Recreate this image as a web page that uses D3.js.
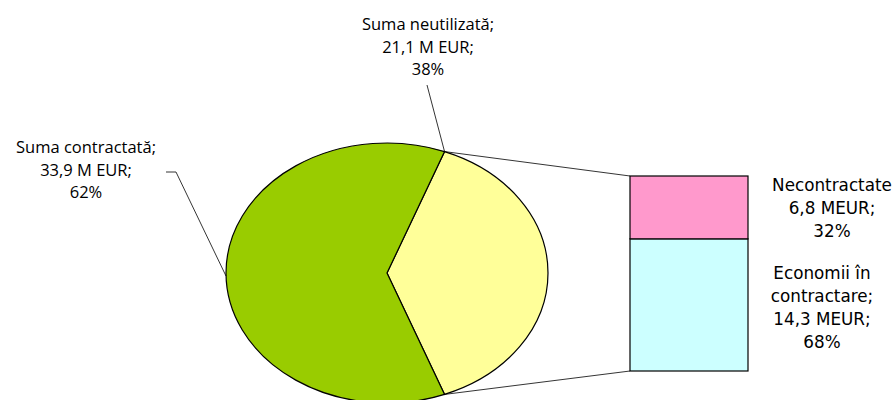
<!DOCTYPE html>
<meta charset="utf-8">
<script src="https://d3js.org/d3.v7.min.js"></script>
<style>
  body { margin: 0; background: #fff; }
</style>
<body>
<div id="my_visual"></div>
<script>

// pie: total fund split
var pieNames  = ["Suma neutilizată", "Suma contractată"];
var pieValues = [21.1, 33.9];
var pieTexts  = ["21,1 M EUR;", "33,9 M EUR;"];
var piePcts   = ["38%", "62%"];
var pieColors = ["#FFFF99", "#99CC00"];

// bar: breakdown of the unused part (bottom to top)
var barNames  = ["Economii în contractare", "Necontractate"];
var barValues = [14.3, 6.8];
var barTexts  = ["14,3 MEUR;", "6,8 MEUR;"];
var barPcts   = ["68%", "32%"];
var barColors = ["#CCFFFF", "#FF99CC"];

var width = 893, height = 400;

var svg = d3.select("#my_visual")
  .append("svg")
    .attr("width", width)
    .attr("height", height);

// the pie is an ellipse: draw a circle then squash it
var cx = 387, cy = 273, rx = 161, ry = 130;

var total = d3.sum(pieValues);
var half = pieValues[0] / total * Math.PI;   // half of the yellow slice
var pie = d3.pie().sort(null).startAngle(Math.PI / 2 - half).endAngle(Math.PI / 2 - half + 2 * Math.PI);
var arcs = pie(pieValues);
var arc = d3.arc().innerRadius(0).outerRadius(rx);

svg.append("g")
    .attr("transform", "translate(" + cx + "," + cy + ") scale(1," + (ry / rx) + ")")
  .selectAll("path")
  .data(arcs)
  .enter()
  .append("path")
    .attr("d", arc)
    .attr("fill", function(d, i) { return pieColors[i]; })
    .attr("stroke", "#000")
    .attr("stroke-width", 1.2)
    .attr("vector-effect", "non-scaling-stroke");

function onEllipse(a) {
  return [cx + rx * Math.sin(a), cy - ry * Math.cos(a)];
}

// stacked bar
var barX = d3.scaleBand().domain(["bar"]).range([630, 748]).padding(0);
var barY = d3.scaleLinear().domain([0, d3.sum(barValues)]).range([371, 176]);
var stacked = [];
var acc = 0;
barValues.forEach(function(v, i) {
  stacked.push({y0: acc, y1: acc + v, i: i});
  acc += v;
});

svg.append("g")
  .selectAll("rect")
  .data(stacked)
  .enter()
  .append("rect")
    .attr("x", barX("bar"))
    .attr("width", barX.bandwidth())
    .attr("y", function(d) { return barY(d.y1); })
    .attr("height", function(d) { return barY(d.y0) - barY(d.y1); })
    .attr("fill", function(d) { return barColors[d.i]; })
    .attr("stroke", "#000")
    .attr("stroke-width", 1.2);

// lines from the yellow slice to the bar
var pTop = onEllipse(arcs[0].startAngle);
var pBot = onEllipse(arcs[0].endAngle);
svg.append("line")
    .attr("x1", pTop[0]).attr("y1", pTop[1])
    .attr("x2", barX("bar")).attr("y2", barY(d3.sum(barValues)))
    .attr("stroke", "#000").attr("stroke-width", 0.8);
svg.append("line")
    .attr("x1", pBot[0]).attr("y1", pBot[1])
    .attr("x2", barX("bar")).attr("y2", barY(0))
    .attr("stroke", "#000").attr("stroke-width", 0.8);

// pie labels
var pieLabelPos = [[428, 30], [86, 153]];
pieNames.forEach(function(name, i) {
  var t = svg.append("text")
      .attr("text-anchor", "middle")
      .attr("font-family", "'Open Sans', sans-serif")
      .attr("font-size", 16.5)
      .attr("fill", "#000");
  [name + ";", pieTexts[i], piePcts[i]].forEach(function(s, k) {
    t.append("tspan")
      .attr("x", pieLabelPos[i][0])
      .attr("y", pieLabelPos[i][1] + k * 22.5)
      .text(s);
  });
});

// leader lines
svg.append("path")
    .attr("d", "M427,85 L" + pTop[0] + "," + pTop[1])
    .attr("fill", "none").attr("stroke", "#000").attr("stroke-width", 0.8);
svg.append("path")
    .attr("d", "M166,172 L176,172 L226,276")
    .attr("fill", "none").attr("stroke", "#000").attr("stroke-width", 0.8);

// bar labels
var barLabelLines = [
  [["Economii în", "contractare;", barTexts[0], barPcts[0]], 822, 279],
  [["Necontractate", barTexts[1], barPcts[1]], 832, 191]
];
barLabelLines.forEach(function(b) {
  var t = svg.append("text")
      .attr("text-anchor", "middle")
      .attr("font-family", "'DejaVu Sans', sans-serif")
      .attr("font-size", 16.8)
      .attr("fill", "#000");
  b[0].forEach(function(s, k) {
    t.append("tspan")
      .attr("x", b[1])
      .attr("y", b[2] + k * 23)
      .text(s);
  });
});

</script>
</body>
</html>
